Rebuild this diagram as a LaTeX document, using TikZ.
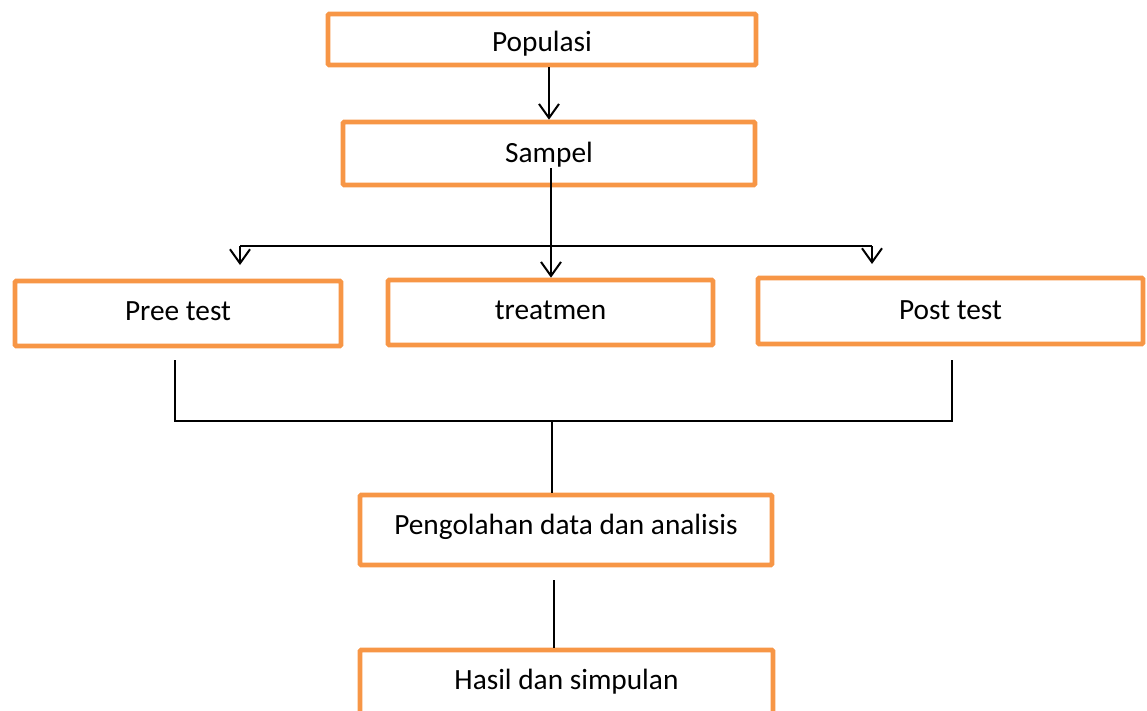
\documentclass[tikz,border=0pt]{standalone}
\usepackage{fontspec}
\setmainfont{Carlito}
\usetikzlibrary{arrows.meta}
\definecolor{boxorange}{RGB}{247,150,70}
\tikzset{
  box/.style={draw=boxorange, line width=3.5pt, fill=white, inner sep=0pt,
    font=\fontsize{22}{26}\selectfont, rectangle, rounded corners=0.8pt,
    text height=11pt, text depth=4pt},
  conn/.style={draw=black, line width=1.5pt},
  arr/.style={conn, -{Straight Barb[length=10.5pt, width=15pt, line width=1.5pt]}}
}
\begin{document}
\begin{tikzpicture}[x=0.75pt, y=-0.75pt]
\useasboundingbox (0,0) rectangle (1147,711);
\node[box, minimum width=321pt, minimum height=38.25pt] (pop) at (542,39.5) {\raisebox{-5.3pt}{Populasi}};
\node[box, minimum width=309pt, minimum height=47.25pt] (sam) at (549,153.5) {\raisebox{-3pt}{Sampel}};
\node[box, minimum width=244.5pt, minimum height=48.75pt] (pre) at (178,313.5) {\raisebox{-1.5pt}{Pree test}};
\node[box, minimum width=243.75pt, minimum height=48.75pt] (tre) at (550.5,312.5) {\raisebox{-1.5pt}{treatmen}};
\node[box, minimum width=288.75pt, minimum height=49.5pt] (post) at (950.5,311) {\raisebox{-2.5pt}{Post test}};
\node[box, minimum width=309pt, minimum height=52.5pt] (peng) at (566,530) {\raisebox{0pt}{Pengolahan data dan analisis}};
\node[box, minimum width=309.75pt, minimum height=52.5pt] (has) at (566.5,685) {\raisebox{0pt}{Hasil dan simpulan}};
% Populasi -> Sampel
\draw[arr] (sam.north |- pop.south) -- (sam.north);
% Sampel -> treatmen
\coordinate (s0) at (551,168);
\draw[arr] (s0) -- (s0 |- tre.north);
% branch
\coordinate (bl) at (240,246);
\coordinate (br) at (872,246);
\coordinate (tl) at (240,265);
\coordinate (tr) at (872,264);
\draw[conn] (bl) -- (br);
\draw[arr] (bl) -- (tl);
\draw[arr] (br) -- (tr);
% join
\coordinate (p1) at (175,360);
\coordinate (p2) at (175,421);
\coordinate (q1) at (952,360);
\coordinate (q2) at (952,421);
\coordinate (m) at (552,421);
\draw[conn] (p1) -- (p2) -- (q2) -- (q1);
\draw[conn] (m) -- (m |- peng.north);
% Pengolahan -> Hasil
\coordinate (h0) at (554,580);
\draw[conn] (h0) -- (h0 |- has.north);
\end{tikzpicture}
\end{document}
